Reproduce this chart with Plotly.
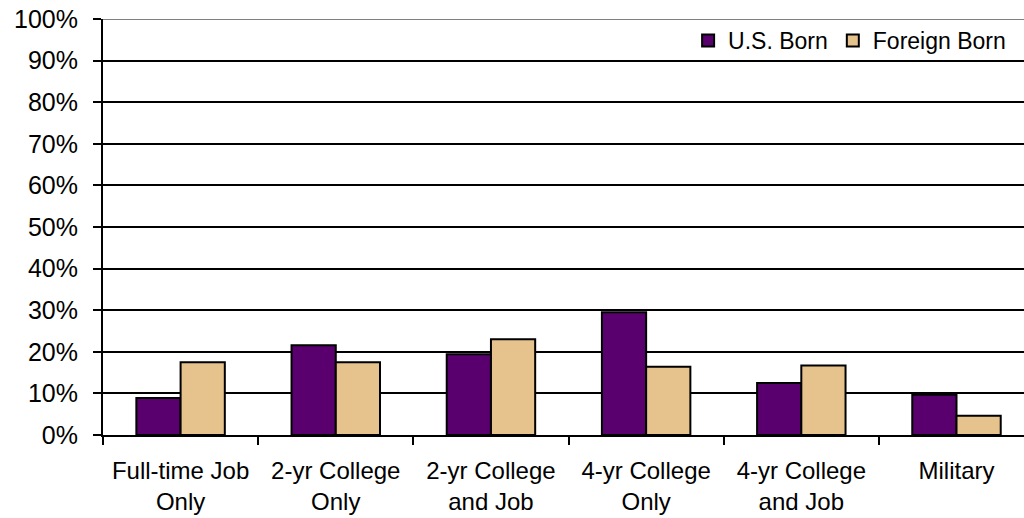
import plotly.graph_objects as go

# Post-high-school outcomes by nativity (percent of group)
categories = [
    "Full-time Job<br>Only",
    "2-yr College<br>Only",
    "2-yr College<br>and Job",
    "4-yr College<br>Only",
    "4-yr College<br>and Job",
    "Military",
]
us_born = [8.9, 21.6, 19.4, 29.5, 12.5, 9.7]
foreign_born = [17.5, 17.5, 23.0, 16.4, 16.7, 4.6]

PURPLE = "#5A006E"
TAN = "#E6C38C"
FONT = "Liberation Sans, Arial, sans-serif"

fig = go.Figure()
fig.add_trace(go.Bar(
    name="U.S. Born", x=categories, y=us_born,
    marker=dict(color=PURPLE, line=dict(color="black", width=2)),
))
fig.add_trace(go.Bar(
    name="Foreign Born", x=categories, y=foreign_born,
    marker=dict(color=TAN, line=dict(color="black", width=2)),
))

fig.update_layout(
    width=1024, height=518,
    margin=dict(l=103, r=0, t=19, b=83),
    paper_bgcolor="white", plot_bgcolor="white",
    barmode="group", bargap=0.43, bargroupgap=0,
    font=dict(family=FONT, size=22, color="black"),
    legend=dict(
        orientation="h", x=0.986, xanchor="right", y=1.0, yanchor="top",
        font=dict(size=23), itemwidth=30, bgcolor="rgba(0,0,0,0)",
        tracegroupgap=0,
    ),
    xaxis=dict(
        type="category", range=[-0.5, 5.435],
        tickson="boundaries", ticks="outside", ticklen=8, tickwidth=2,
        tickcolor="black", showline=True, linecolor="black", linewidth=2,
        showgrid=False, tickfont=dict(size=24), ticklabelstandoff=13,
    ),
    yaxis=dict(
        range=[0, 100], dtick=10, ticksuffix="%",
        ticks="outside", ticklen=8, tickwidth=2, tickcolor="black",
        showline=True, linecolor="black", linewidth=2,
        showgrid=True, gridcolor="black", gridwidth=2,
        tickfont=dict(size=25), ticklabelstandoff=10, zeroline=False,
    ),
)

# light top border of the plotting area
fig.add_shape(type="line", xref="paper", yref="y", x0=0, x1=1, y0=100, y1=100,
              line=dict(color="#808080", width=2))

fig.write_html("out.html")
